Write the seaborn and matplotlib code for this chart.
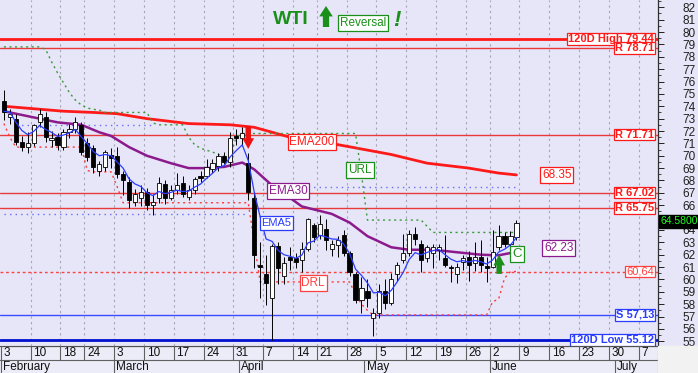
import numpy as np
import matplotlib
matplotlib.use("Agg")
import matplotlib.pyplot as plt
from matplotlib.ticker import MultipleLocator
from matplotlib.patches import Rectangle
import seaborn as sns

# daily candles, bar 0 = Mon 3 Feb 2025 (trading days only)
opens = [74.4, 73.1, 73.0, 71.1, 70.7, 71.0, 72.7, 73.1, 71.3, 71.5,
         70.7, 71.9, 72.2, 72.5, 71.0, 70.6, 68.8, 69.1, 70.1, 70.0,
         68.5, 67.9, 66.3, 66.6, 67.1, 66.0, 66.6, 67.7, 66.6, 67.2,
         67.8, 66.7, 67.2, 68.4, 68.4, 68.9, 69.2, 70.0, 69.5, 71.6,
         71.4, 69.4, 66.6, 61.2, 60.4, 58.5, 62.7, 60.3, 61.8, 61.7,
         61.6, 62.5, 64.4, 63.6, 64.1, 62.5, 62.8, 63.6, 62.1, 60.4,
         58.3, 59.1, 56.9, 57.3, 59.1, 58.1, 60.4, 61.6, 62.1, 63.7,
         62.9, 61.7, 62.1, 62.4, 61.7, 61.0, 60.4, 61.4, 61.8, 61.3,
         61.8, 61.1, 61.0, 62.6, 63.5, 62.9, 63.4]
highs = [75.3, 73.8, 73.4, 71.6, 71.9, 72.6, 73.8, 73.5, 72.0, 71.8,
         72.2, 72.6, 73.1, 72.7, 71.4, 70.9, 69.6, 70.5, 70.6, 70.7,
         68.8, 68.3, 67.3, 67.6, 67.4, 66.9, 68.3, 68.0, 67.6, 68.6,
         68.4, 67.6, 68.3, 68.8, 69.7, 69.7, 70.2, 70.3, 71.9, 72.2,
         72.3, 70.2, 67.0, 63.0, 62.0, 62.9, 63.0, 61.8, 62.6, 62.1,
         63.0, 65.0, 64.6, 65.2, 64.9, 63.2, 63.5, 64.0, 62.3, 60.6,
         60.2, 60.0, 57.7, 59.6, 60.0, 60.5, 61.4, 63.7, 64.0, 64.2,
         63.2, 62.8, 62.9, 62.9, 63.6, 61.2, 61.3, 62.0, 62.3, 63.0,
         63.2, 61.8, 64.0, 64.4, 63.8, 63.9, 64.8]
lows = [72.9, 72.6, 70.9, 70.4, 70.2, 70.8, 72.3, 71.1, 70.7, 70.5,
        70.5, 71.4, 71.8, 70.1, 69.6, 68.6, 68.4, 68.8, 69.0, 68.2,
        66.8, 65.8, 65.9, 65.9, 65.6, 65.2, 66.2, 66.1, 66.4, 66.9,
        66.7, 66.4, 66.9, 67.9, 68.2, 68.6, 68.8, 69.3, 69.1, 70.9,
        70.8, 66.4, 60.9, 58.5, 57.9, 55.12, 59.6, 59.6, 60.8, 60.9,
        60.6, 62.3, 63.0, 63.3, 62.4, 61.9, 61.8, 61.9, 60.3, 58.1,
        57.3, 57.8, 55.4, 56.9, 57.6, 57.9, 59.9, 61.3, 61.9, 62.8,
        60.6, 61.4, 60.9, 61.6, 61.0, 59.8, 59.7, 60.8, 59.9, 60.7,
        60.6, 59.8, 60.9, 62.4, 62.6, 62.5, 63.2]
closes = [73.5, 73.4, 71.1, 70.7, 71.0, 72.5, 73.4, 71.5, 71.4, 70.9,
          71.9, 72.2, 72.7, 70.3, 69.9, 69.1, 69.3, 70.3, 69.8, 68.5,
          68.0, 66.4, 66.9, 67.1, 66.0, 66.3, 67.8, 66.6, 67.2, 67.6,
          66.9, 67.2, 68.1, 68.2, 69.1, 69.4, 70.0, 69.5, 71.4, 71.4,
          71.8, 67.1, 62.0, 61.0, 59.7, 62.7, 60.9, 61.3, 61.6, 61.4,
          62.5, 64.9, 63.4, 64.5, 63.2, 62.9, 63.2, 62.1, 60.6, 58.3,
          59.3, 58.5, 57.3, 59.1, 58.1, 60.0, 61.2, 62.1, 63.7, 63.3,
          61.6, 62.6, 62.6, 62.6, 61.2, 60.9, 61.0, 61.7, 61.2, 61.8,
          61.2, 60.9, 62.2, 63.5, 62.9, 63.5, 64.58]

# moving averages and stop lines
ema5 = [73.6, 73.53, 72.72, 72.05, 71.70, 71.97, 72.45, 72.13, 71.89, 71.56,
        71.67, 71.85, 72.13, 71.52, 70.98, 70.35, 70.00, 70.10, 70.00, 69.50,
        69.00, 68.13, 67.72, 67.51, 67.01, 66.77, 67.11, 66.94, 67.03, 67.22,
        67.11, 67.14, 67.46, 67.71, 68.17, 68.58, 69.05, 69.20, 69.93, 70.42,
        70.88, 69.62, 67.08, 65.05, 63.27, 63.08, 62.35, 62.00, 61.87, 61.71,
        61.97, 62.95, 63.10, 63.57, 63.45, 63.27, 63.25, 62.87, 62.11, 60.84,
        60.33, 59.72, 58.91, 58.97, 58.68, 59.12, 59.81, 60.57, 61.61, 62.17,
        61.98, 62.19, 62.33, 62.42, 62.01, 61.64, 61.43, 61.52, 61.41, 61.54,
        61.43, 61.25, 61.57, 62.21, 62.44, 62.79, 63.39]
ema30_bar = [0, 3, 6, 9, 13, 16, 18, 21, 24, 28, 31, 34, 37, 40, 42, 45,
             48, 50, 55, 58, 61, 65, 68, 72, 76, 80, 83, 86]
ema30_val = [73.6, 73.3, 73.0, 72.7, 72.5, 71.9, 71.6, 70.7, 70.0, 69.4, 69.0,
             69.0, 69.1, 69.45, 68.9, 67.6, 66.6, 65.9, 65.3, 64.6, 63.5, 62.6,
             62.4, 62.4, 62.2, 62.0, 61.95, 62.23]
ema200_bar = [0, 5, 10, 15, 19, 24, 31, 38, 40, 42, 48, 56, 65, 71, 78, 83, 86]
ema200_val = [74.0, 73.8, 73.6, 73.5, 73.4, 73.0, 72.6, 72.5, 72.4, 72.3,
              71.5, 70.9, 70.1, 69.4, 69.0, 68.6, 68.45]
url = [78.8, 78.8, 78.8, 78.8, 78.8, 78.8, 78.8, 78.6, 77.6, 76.7,
       75.9, 75.1, 74.5, 74.1, 73.86, 73.75, 73.7, 73.5, 73.5, 73.5,
       73.5, 73.5, 73.5, 73.5, 73.5, 72.65, 72.5, 72.5, 72.5, 72.5,
       72.5, 71.5, 70.9, 70.6, 70.45, 70.3, 70.1, 69.95, 70.0, 71.5,
       71.8, 71.8, 71.8, 71.8, 71.8, 71.8, 71.8, 71.8, 71.8, 71.8,
       71.8, 71.8, 71.8, 71.8, 71.8, 71.8, 71.8, 71.8, 71.8, 71.8,
       68.5, 64.8, 64.8, 64.8, 64.8, 64.8, 64.8, 64.8, 64.8, 64.8,
       64.8, 64.3, 63.8, 63.8, 63.8, 63.8, 63.8, 63.8, 63.8, 63.8,
       63.8, 63.8, 63.8, 63.8, 63.8, 63.8, 63.8]
drl = [72.6, 71.5, 70.7, 70.7, 70.7, 70.7, 70.7, 70.7, 70.7, 70.7,
       70.7, 70.7, 70.7, 70.7, 68.8, 68.7, 68.7, 68.7, 68.7, 67.5,
       66.2, 66.2, 66.2, 66.2, 66.2, 66.2, 66.2, 66.2, 66.2, 66.2,
       66.2, 66.2, 66.2, 66.2, 66.2, 66.2, 66.2, 66.2, 66.2, 66.2,
       66.2, 66.2, 63.0, 59.8, 59.8, 59.8, 59.8, 59.8, 59.8, 59.8,
       59.8, 59.8, 59.8, 59.8, 59.8, 59.8, 59.8, 59.8, 59.8, 58.8,
       58.0, 57.5, 57.13, 57.13, 57.13, 57.13, 57.13, 57.13, 57.13, 57.13,
       57.13, 57.13, 57.13, 57.13, 57.13, 57.13, 57.13, 57.13, 57.13, 57.13,
       57.13, 57.13, 58.2, 58.4, 60.1, 60.64, 60.64]

# pivot-style dotted blue segments: (first bar, last bar, level)
blue_dots = [(2, 25, 72.5), (0, 41, 65.3), (51, 86, 67.45)]

# horizontal levels on the right
lvl_names = ["120D High 79.44", "R 78.71", "R 71.71", "R 67.02", "R 65.75",
             "60,64", "S 57,13", "120D Low 55.12"]
lvl_values = [79.44, 78.71, 71.71, 67.02, 65.75, 60.64, 57.13, 55.12]

# x axis
week_bounds = [-0.5, 4.5, 9.5, 13.5, 18.5, 23.5, 28.5, 33.5, 38.5, 43.5, 48.5,
               52.5, 57.5, 62.5, 67.5, 72.5, 77.5, 81.5, 86.5, 91.5, 96.5,
               101.5, 106.5]
week_labels = ["3", "10", "18", "24", "3", "10", "17", "24", "31", "7", "14",
               "21", "28", "5", "12", "19", "26", "2", "9", "16", "23", "30", "7"]
month_bounds = [-0.5, 18.5, 39.5, 60.5, 81.5, 102.5]
month_labels = ["February", "March", "April", "May", "June", "July"]

sns.set_style("white")
plt.rcParams["font.family"] = ["Liberation Sans", "DejaVu Sans"]

BG = "#e6e6f8"
RED = "#ff1a1a"
GREEN = "#1a8f1a"
PURPLE = "#8c1a8c"
BLUE = "#2a3cff"

fig = plt.figure(figsize=(6.98, 3.73), dpi=100, facecolor=BG)
ax = fig.add_axes([0, 27 / 373, 658 / 698, 346 / 373])
ax.set_facecolor(BG)
ax.set_xlim(-0.65, 109.75)
ax.set_ylim(54.62, 82.59)

for b in week_bounds[1:]:
    ax.axvline(b, color="#a4a4b4", lw=0.8, ls=(0, (2, 3)), zorder=0)

# levels
lvl_style = {79.44: (RED, 2.0, "-"), 78.71: ("#e83a3a", 1.0, "-"),
             71.71: ("#e83a3a", 1.0, "-"), 67.02: ("#e83a3a", 1.0, "-"),
             65.75: ("#e83a3a", 1.0, "-"), 60.64: ("#ff4040", 1.0, (0, (2, 2))),
             57.13: ("#3a4cff", 1.0, "-"), 55.12: ("#0010d0", 2.0, "-")}
for v in lvl_values:
    col, lw, ls = lvl_style[v]
    ax.axhline(v, color=col, lw=lw, ls=ls, zorder=1)

for a, b, v in blue_dots:
    ax.plot([a, b], [v, v], color="#6a6aff", lw=1.0, ls=(0, (1, 3)), zorder=1)

bars = np.arange(len(closes))
sns.lineplot(x=ema200_bar, y=ema200_val, ax=ax, color=RED, lw=2.0, zorder=2)
sns.lineplot(x=ema30_bar, y=ema30_val, ax=ax, color=PURPLE, lw=1.8, zorder=2)
sns.lineplot(x=bars, y=url, ax=ax, color="#3a9a3a", lw=1.0, ls=(0, (1.5, 2.5)), zorder=2)
sns.lineplot(x=bars, y=drl, ax=ax, color="#ff3a3a", lw=1.0, ls=(0, (1.5, 2.5)), zorder=2)

# candles
o = np.array(opens)
c = np.array(closes)
up = c >= o
ax.vlines(bars, lows, highs, color="black", lw=0.7, zorder=3)
ax.bar(bars, np.maximum(np.abs(c - o), 0.08), bottom=np.minimum(o, c), width=0.7,
       color=np.where(up, "white", "black"), edgecolor="black", linewidth=0.6, zorder=4)

sns.lineplot(x=bars, y=ema5, ax=ax, color=BLUE, lw=0.9, zorder=5)


def tag(x, y, s, col, ha="center", bold=False, trans=None, size=8, pad=0.15):
    ax.text(x, y, s, color=col, ha=ha, va="center", fontsize=size,
            fontweight="bold" if bold else "normal",
            transform=trans if trans is not None else ax.transData,
            bbox=dict(boxstyle="square,pad=%g" % pad, fc="white", ec=col, lw=0.9), zorder=9)


yt = ax.get_yaxis_transform()
lbl_col = {79.44: RED, 78.71: RED, 71.71: RED, 67.02: RED, 65.75: RED,
           60.64: "#ff4040", 57.13: BLUE, 55.12: BLUE}
for name, v in zip(lvl_names, lvl_values):
    tag(0.994, v, name, lbl_col[v], ha="right", bold=(v != 60.64), trans=yt,
        size=8, pad=0.08)

tag(51.7, 71.1, "EMA200", RED, size=8.5)
tag(47.7, 67.15, "EMA30", PURPLE, size=8.5)
tag(59.75, 68.85, "URL", GREEN, size=8.5)
tag(45.7, 64.56, "EMA5", BLUE)
tag(51.9, 59.71, "DRL", "#ff4040", size=8.5)
tag(86.1, 62.06, "C", GREEN, size=9.5)
tag(92.8, 68.44, "68.35", RED, size=8.5)
tag(93.1, 62.54, "62.23", PURPLE, size=8.5)

# signal arrows
arrow = "simple,head_length=0.55,head_width=0.6,tail_width=0.28"
ax.annotate("", xy=(41, 70.55), xytext=(41, 72.4),
            arrowprops=dict(arrowstyle=arrow, fc="#ee1111", ec="#ee1111", lw=0,
                            mutation_scale=14, shrinkA=0, shrinkB=0), zorder=9)
ax.annotate("", xy=(83.1, 62.0), xytext=(83.1, 60.45),
            arrowprops=dict(arrowstyle=arrow, fc=GREEN, ec=GREEN, lw=0,
                            mutation_scale=14, shrinkA=0, shrinkB=0), zorder=9)

# right axis
ax.yaxis.tick_right()
ticks = list(range(55, 83))
ax.set_yticks(ticks)
ax.set_yticklabels(["" if t == 65 else str(t) for t in ticks])
ax.yaxis.set_minor_locator(MultipleLocator(0.5))
ax.tick_params(axis="y", which="major", length=4.5, width=0.7, pad=13,
               labelsize=8.5, direction="out", colors="#202020")
ax.tick_params(axis="y", which="minor", length=2.5, width=0.6, direction="out")
ax.set_xticks([])
ax.set_xlabel("")
ax.set_ylabel("")
for s in ["left", "top"]:
    ax.spines[s].set_visible(False)
ax.spines["right"].set_color("#303030")
ax.spines["right"].set_linewidth(0.9)
ax.spines["bottom"].set_color("#505050")

ax.text(1.004, closes[-1] + 0.12, "64.5800", transform=yt, ha="left", va="center",
        fontsize=7.5, color="#22ff22",
        bbox=dict(boxstyle="square,pad=0.12", fc="black", ec="black"), clip_on=False, zorder=10)

# title
fig.text(291 / 698, 1 - 20 / 373, "WTI", color=GREEN, fontsize=14, fontweight="bold",
         ha="center", va="center")
ax.annotate("", xy=(326 / 698, 1 - 6 / 373), xytext=(326 / 698, 1 - 27 / 373),
            xycoords="figure fraction", textcoords="figure fraction",
            arrowprops=dict(arrowstyle="simple,head_length=0.5,head_width=0.65,tail_width=0.3",
                            fc=GREEN, ec=GREEN, lw=0, mutation_scale=15,
                            shrinkA=0, shrinkB=0))
fig.text(363 / 698, 1 - 23 / 373, "Reversal", color=GREEN, fontsize=8.5, ha="center",
         va="center", bbox=dict(boxstyle="square,pad=0.18", fc="white", ec=GREEN, lw=0.9))
fig.text(397 / 698, 1 - 21 / 373, "!", color=GREEN, fontsize=16, fontweight="bold",
         style="italic", ha="center", va="center")

# date band
axd = fig.add_axes([0, 0, 658 / 698, 27 / 373])
axd.set_xlim(ax.get_xlim())
axd.set_ylim(0, 2)
axd.axis("off")
axd.add_patch(Rectangle((-0.65, 0), 110.4, 2, color="#ececf8", zorder=0))
axd.plot([-0.65, 109.75], [1, 1], color="#606060", lw=0.8)
axd.plot([-0.65, 109.75], [1.98, 1.98], color="#505050", lw=0.9)
for b, lab in zip(week_bounds, week_labels):
    axd.plot([b, b], [1, 2], color="#606060", lw=0.8)
    axd.text(b + 0.45, 1.45, lab, fontsize=8.5, ha="left", va="center", color="#101010")
for b, lab in zip(month_bounds, month_labels):
    axd.plot([b, b], [0, 1], color="#606060", lw=0.8)
    axd.text(b + 0.35, 0.45, lab, fontsize=8.5, ha="left", va="center", color="#101010")
axd.plot([109.7, 109.7], [0, 2], color="#606060", lw=0.8)
fig.patches.append(Rectangle((658 / 698, 0), 40 / 698, 27 / 373,
                             transform=fig.transFigure, color="#f2f2f2", zorder=0))

fig.savefig("out.png", dpi=100, facecolor=BG)
